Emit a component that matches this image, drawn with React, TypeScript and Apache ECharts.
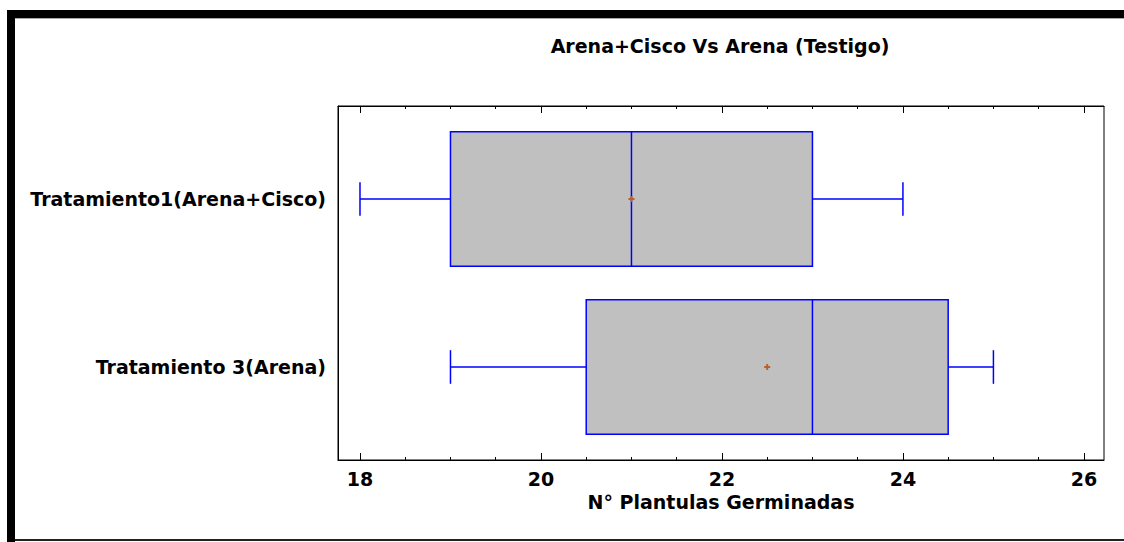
import React, { useEffect, useRef } from "react";
import * as echarts from "echarts";

const categories = ["Tratamiento1(Arena+Cisco)", "Tratamiento 3(Arena)"];
const mins = [18, 19];
const q1s = [19, 20.5];
const medians = [21, 23];
const q3s = [23, 24.5];
const maxs = [24, 25];
const means = [21, 22.5];

const majorTicks = [18, 20, 22, 24, 26];
const minorTicks = [18, 18.5, 19, 19.5, 20, 20.5, 21, 21.5, 22, 22.5, 23, 23.5, 24, 24.5, 25, 25.5, 26];

const X_MIN = 17.757;
const X_MAX = 26.222;
const Y_MIN = -0.5536;
const Y_MAX = 1.5536;

const title = "Arena+Cisco Vs Arena (Testigo)";
const xName = "N° Plantulas Germinadas";

const FONT = "'DejaVu Sans', Verdana, sans-serif";
const FS = 19;
const BLUE = "#0000ff";

export default function App() {
  const ref = useRef<HTMLDivElement>(null);
  useEffect(() => {
    if (!ref.current) return;
    const chart = echarts.init(ref.current, null, { renderer: "svg" });
    const data = categories.map((_, i) => [i, mins[i], q1s[i], medians[i], q3s[i], maxs[i], means[i]]);
    const baseX = {
      type: "value",
      min: X_MIN,
      max: X_MAX,
      splitLine: { show: false },
    } as any;
    chart.setOption({
      animation: false,
      backgroundColor: "#fff",
      title: {
        text: title,
        left: 715,
        top: 31,
        textAlign: "center",
        textStyle: { fontFamily: FONT, fontWeight: "bold", fontSize: FS, color: "#000" },
      },
      grid: {
        left: 338,
        top: 106,
        width: 766,
        height: 354,
        show: true,
        borderColor: "#000",
        borderWidth: 1,
        backgroundColor: "transparent",
      },
      graphic: [
        { type: "rect", shape: { x: 7, y: 10, width: 1117, height: 8 }, style: { fill: "#000" } },
        { type: "rect", shape: { x: 7, y: 10, width: 8, height: 532 }, style: { fill: "#000" } },
        { type: "rect", shape: { x: 15, y: 18, width: 1109, height: 1 }, style: { fill: "#aaa" } },
        { type: "rect", shape: { x: 15, y: 539, width: 1109, height: 2 }, style: { fill: "#222" } },
      ],
      xAxis: [
        {
          ...baseX,
          position: "bottom",
          axisLine: { show: true, onZero: false, lineStyle: { color: "#000", width: 1 } },
          axisTick: { show: true, inside: true, length: 7, customValues: majorTicks, lineStyle: { color: "#000" } },
          axisLabel: {
            show: true,
            customValues: majorTicks,
            margin: 9,
            fontFamily: FONT,
            fontWeight: "bold",
            fontSize: FS,
            color: "#000",
          },
          name: xName,
          nameLocation: "middle",
          nameGap: 29,
          nameTextStyle: { fontFamily: FONT, fontWeight: "bold", fontSize: FS, color: "#000" },
        },
        {
          ...baseX,
          position: "bottom",
          axisLine: { show: false, onZero: false },
          axisTick: { show: true, inside: true, length: 3, customValues: minorTicks, lineStyle: { color: "#000" } },
          axisLabel: { show: false },
        },
        {
          ...baseX,
          position: "top",
          axisLine: { show: true, onZero: false, lineStyle: { color: "#000", width: 1 } },
          axisTick: { show: true, inside: true, length: 7, customValues: majorTicks, lineStyle: { color: "#000" } },
          axisLabel: { show: false },
        },
        {
          ...baseX,
          position: "top",
          axisLine: { show: false, onZero: false },
          axisTick: { show: true, inside: true, length: 3, customValues: minorTicks, lineStyle: { color: "#000" } },
          axisLabel: { show: false },
        },
      ],
      yAxis: {
        type: "value",
        min: Y_MIN,
        max: Y_MAX,
        inverse: true,
        splitLine: { show: false },
        axisLine: { show: true, onZero: false, lineStyle: { color: "#000", width: 1 } },
        axisTick: { show: false },
        axisLabel: {
          show: true,
          customValues: [0, 1],
          formatter: (v: number) => categories[Math.round(v)] ?? "",
          margin: 12,
          fontFamily: FONT,
          fontWeight: "bold",
          fontSize: FS,
          color: "#000",
        },
      },
      series: [
        {
          type: "custom",
          xAxisIndex: 0,
          yAxisIndex: 0,
          encode: { x: [1, 2, 3, 4, 5, 6], y: 0 },
          data,
          renderItem: (params: any, api: any) => {
            const idx = api.value(0);
            const pLow = api.coord([api.value(1), idx]);
            const pQ1 = api.coord([api.value(2), idx]);
            const pMed = api.coord([api.value(3), idx]);
            const pQ3 = api.coord([api.value(4), idx]);
            const pHigh = api.coord([api.value(5), idx]);
            const pMean = api.coord([api.value(6), idx]);
            const h = Math.abs(api.size([0, 0.8])[1]);
            const ch = Math.abs(api.size([0, 0.2])[1]);
            const cy = pLow[1];
            const ls = { stroke: BLUE, lineWidth: 1.5 };
            const mk = { stroke: "#b8622a", lineWidth: 2 };
            return {
              type: "group",
              children: [
                { type: "line", shape: { x1: pLow[0], y1: cy, x2: pQ1[0], y2: cy }, style: ls },
                { type: "line", shape: { x1: pLow[0], y1: cy - ch / 2, x2: pLow[0], y2: cy + ch / 2 }, style: ls },
                { type: "line", shape: { x1: pQ3[0], y1: cy, x2: pHigh[0], y2: cy }, style: ls },
                { type: "line", shape: { x1: pHigh[0], y1: cy - ch / 2, x2: pHigh[0], y2: cy + ch / 2 }, style: ls },
                {
                  type: "rect",
                  shape: { x: pQ1[0], y: cy - h / 2, width: pQ3[0] - pQ1[0], height: h },
                  style: { fill: "#c0c0c0", stroke: BLUE, lineWidth: 1.5 },
                },
                { type: "line", shape: { x1: pMed[0], y1: cy - h / 2, x2: pMed[0], y2: cy + h / 2 }, style: ls },
                { type: "line", shape: { x1: pMean[0] - 3, y1: cy, x2: pMean[0] + 3, y2: cy }, style: mk },
                { type: "line", shape: { x1: pMean[0], y1: cy - 3, x2: pMean[0], y2: cy + 3 }, style: mk },
              ],
            };
          },
        },
      ],
    });
    return () => chart.dispose();
  }, []);
  return (
    <div
      ref={ref}
      style={{ position: "absolute", left: 0, top: 0, width: 1124, height: 542 }}
    />
  );
}
